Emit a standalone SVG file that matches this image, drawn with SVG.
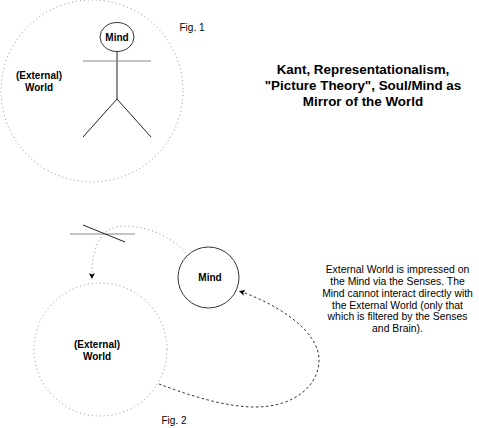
<svg xmlns="http://www.w3.org/2000/svg" width="479" height="428" viewBox="0 0 479 428">
<style>
text{font-family:"Liberation Sans",Arial,sans-serif;fill:#000;text-anchor:middle}
.b{font-weight:bold;font-size:10px}
.s{font-size:10px}
.n{font-size:10.4px}
.t{font-weight:bold;font-size:13.4px}
.dot{fill:none;stroke:#8c8c8c;stroke-width:1;stroke-dasharray:1 3}
.sol{fill:#fff;stroke:#333;stroke-width:1}
.ln{fill:none;stroke:#222;stroke-width:1}
.gr{fill:none;stroke:#888;stroke-width:1}
.dash{fill:none;stroke:#333;stroke-width:1;stroke-dasharray:2.500 2.500}
</style>
<defs>
<marker id="ah" markerWidth="8" markerHeight="8" refX="6" refY="3" orient="auto" markerUnits="userSpaceOnUse"><path d="M0 0L6 3L0 6L1.500 3Z" fill="#000"/></marker>
</defs>
<g id="world1"><circle class="dot" cx="92" cy="91" r="91"/><text class="b" x="39" y="79">(External)</text><text class="b" x="39" y="91">World</text></g>
<g id="figure1">
<line class="ln" x1="117" y1="52" x2="117" y2="99"/>
<line class="gr" x1="83" y1="61" x2="151" y2="61"/>
<path class="ln" d="M83 137L117 99L151 137"/>
<ellipse class="sol" cx="117" cy="37" rx="17" ry="14.500"/><text class="b" x="117" y="41">Mind</text>
</g>
<g id="fig1label"><text class="s" x="192" y="31">Fig. 1</text></g>
<g id="title"><text class="t" x="363" y="74">Kant, Representationalism,</text><text class="t" x="363" y="90">"Picture Theory", Soul/Mind as</text><text class="t" x="363" y="106">Mirror of the World</text></g>
<g id="world2"><circle class="dot" cx="100.500" cy="349.500" r="66.500"/><text class="b" x="97" y="348">(External)</text><text class="b" x="97" y="360">World</text></g>
<g id="mind2"><circle class="sol" cx="208.500" cy="277.500" r="30.500"/><text class="b" x="210" y="281">Mind</text></g>
<g id="filter"><line class="gr" x1="70" y1="234" x2="135" y2="234"/><line class="ln" x1="83" y1="225" x2="125" y2="242"/></g>
<g id="connectors">
<path class="dot" d="M186 253C170 235 145 226 125 226C105 226 91 240 92 279" marker-end="url(#ah)"/>
<path class="dash" d="M159 384C188 395 225 407 255 407C295 407 319 385 319 360C319 330 275 303 239 291" marker-end="url(#ah)"/>
</g>
<g id="fig2label"><text class="s" x="174" y="424">Fig. 2</text></g>
<g id="note"><text class="n" x="397.500" y="273">External World is impressed on</text><text class="n" x="397.500" y="285">the Mind via the Senses. The</text><text class="n" x="397.500" y="296.500">Mind cannot interact directly with</text><text class="n" x="397.500" y="308.500">the External World (only that</text><text class="n" x="397.500" y="320">which is filtered by the Senses</text><text class="n" x="397.500" y="332">and Brain).</text></g>
</svg>
